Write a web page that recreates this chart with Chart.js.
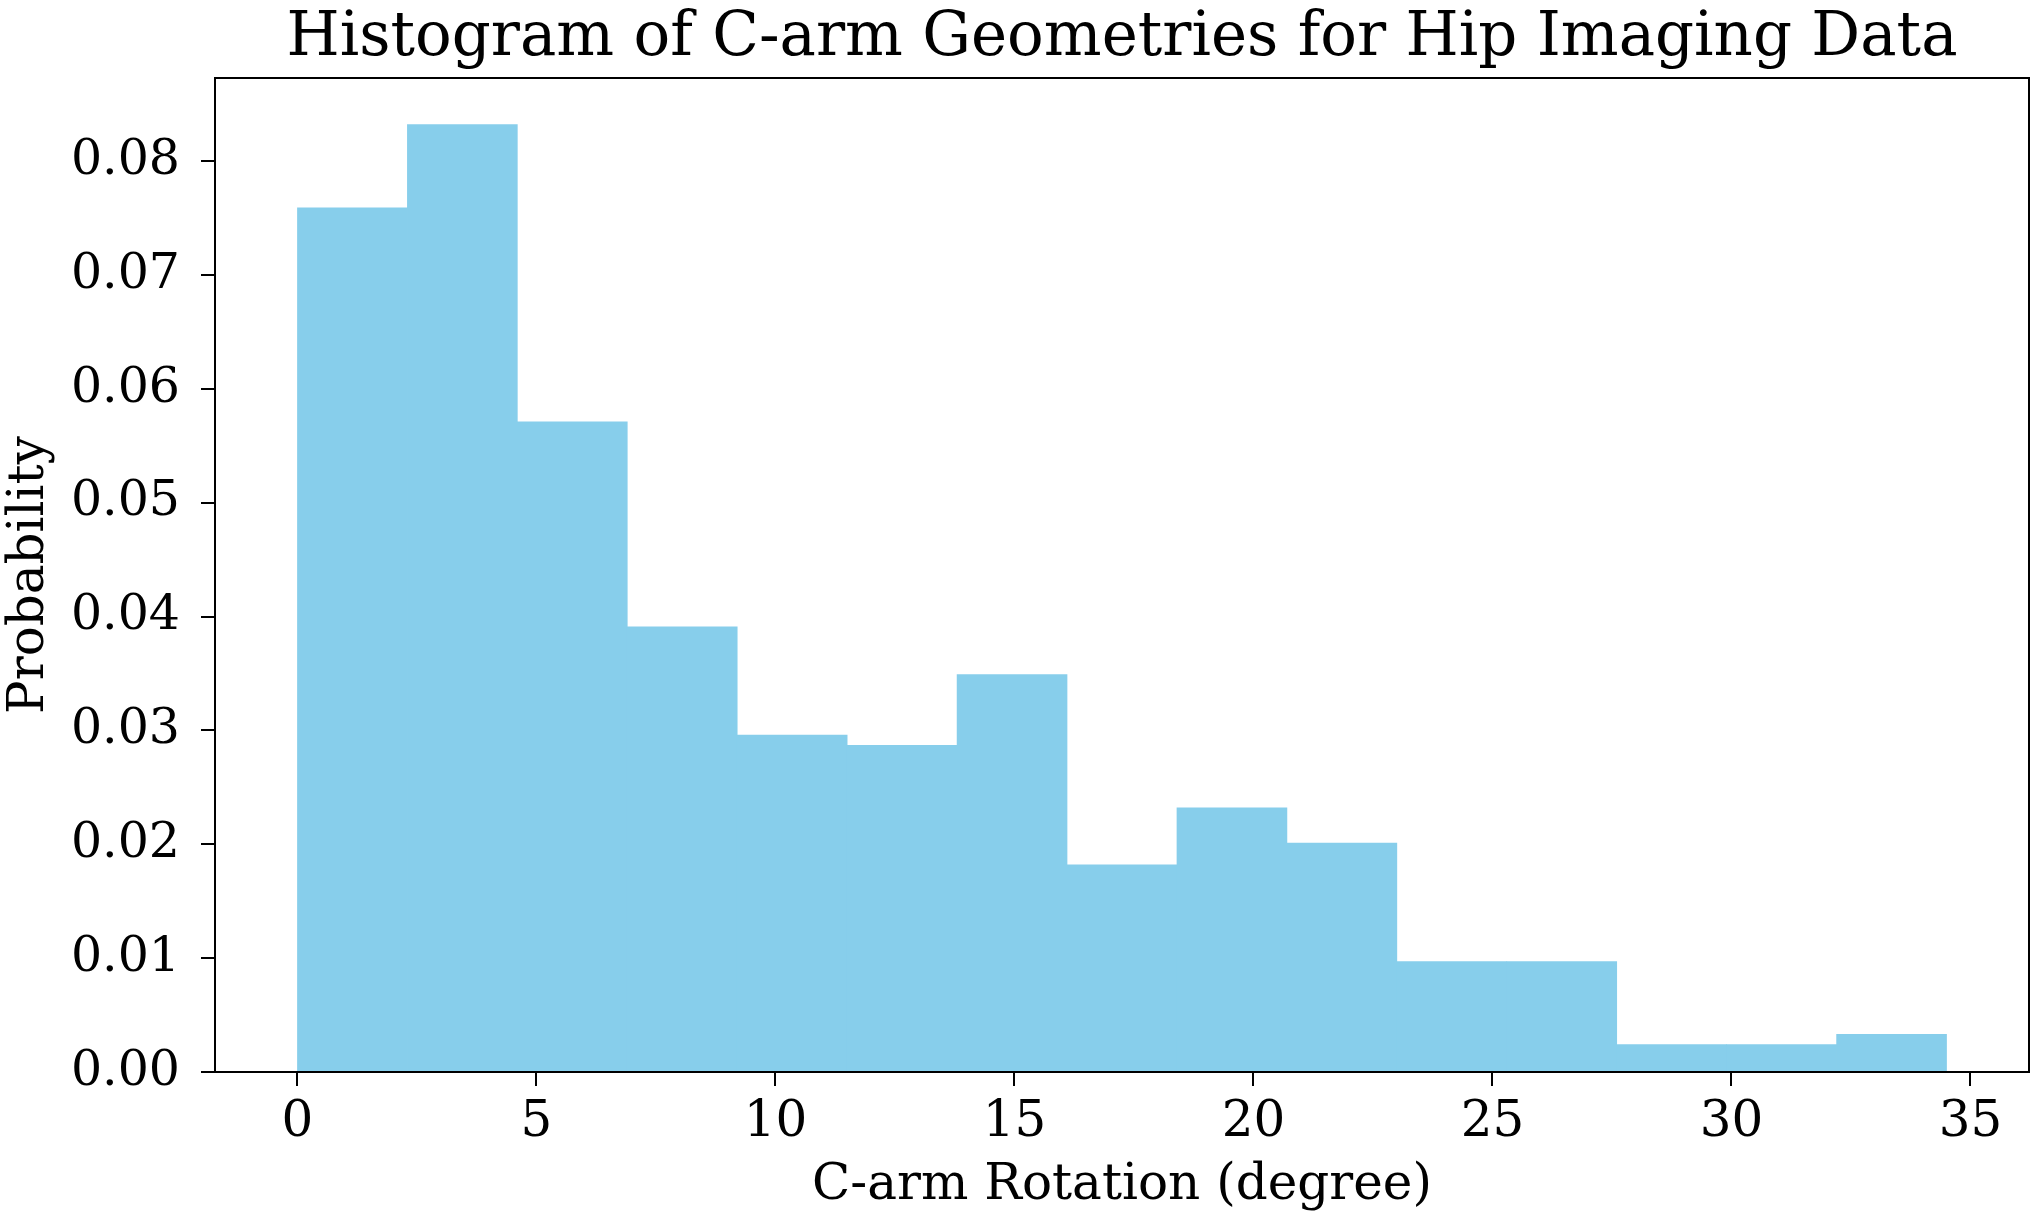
<!DOCTYPE html>
<html>
<head>
<meta charset="utf-8">
<script src="https://cdn.jsdelivr.net/npm/chart.js@4"></script>
<style>
  body { margin: 0; background: #fff; }
  #wrap { width: 2040px; height: 1216px; }
</style>
</head>
<body>
<div id="wrap"><canvas id="myChart"></canvas></div>
<script>
const binEdges = [0, 2.3, 4.6, 6.9, 9.2, 11.5, 13.8, 16.1, 18.4, 20.7, 23.0, 25.3, 27.6, 29.9, 32.2, 34.5];
const probability = [0.0759, 0.0832, 0.0571, 0.0391, 0.0296, 0.0287, 0.0349, 0.0182, 0.0232, 0.0201, 0.0097, 0.0097, 0.0024, 0.0024, 0.0033];
const xTicks = [0, 5, 10, 15, 20, 25, 30, 35];
const yTicks = [0, 0.01, 0.02, 0.03, 0.04, 0.05, 0.06, 0.07, 0.08];

const FONT = "'DejaVu Serif', serif";
const TITLE = 'Histogram of C-arm Geometries for Hip Imaging Data';

const points = probability.map((p, i) => ({ x: (binEdges[i] + binEdges[i + 1]) / 2, y: p }));

// box around the plot area + title centred over it, like matplotlib
const frame = {
    id: 'frame',
    afterDatasetsDraw(chart) {
        const { ctx, chartArea: a } = chart;
        ctx.save();
        ctx.strokeStyle = '#000';
        ctx.lineWidth = 2;
        ctx.strokeRect(a.left, a.top, a.right - a.left, a.bottom - a.top);
        ctx.fillStyle = '#000';
        ctx.font = "61px " + FONT;
        ctx.textAlign = 'center';
        ctx.textBaseline = 'alphabetic';
        ctx.fillText(TITLE, (a.left + a.right) / 2, 55);
        ctx.restore();
    }
};

const tickGrid = {
    display: true,
    drawOnChartArea: false,
    drawTicks: true,
    tickLength: 14,
    offset: false,
    color: '#000',
    lineWidth: 2,
};

const ctx = document.getElementById('myChart').getContext('2d');
const chart = new Chart(ctx, {
    type: 'bar',
    data: {
        datasets: [{
            label: 'C-arm Rotation',
            data: points,
            backgroundColor: '#87CEEB',
            borderWidth: 0,
            barPercentage: 1,
            categoryPercentage: 1,
        }]
    },
    options: {
        responsive: true,
        maintainAspectRatio: false,
        animation: false,
        layout: { padding: { left: 0, right: 11, top: 78, bottom: 0 } },
        plugins: {
            legend: { display: false },
            tooltip: { enabled: false },
            title: { display: false }
        },
        scales: {
            x: {
                type: 'linear',
                min: -1.725,
                max: 36.225,
                offset: false,
                grid: tickGrid,
                border: { display: false },
                afterBuildTicks: scale => { scale.ticks = xTicks.map(v => ({ value: v })); },
                afterFit: scale => { scale.height = 144; },
                ticks: {
                    color: '#000',
                    padding: 7,
                    maxRotation: 0,
                    font: { family: FONT, size: 50 },
                    callback: v => String(v),
                },
                title: {
                    display: true,
                    text: 'C-arm Rotation (degree)',
                    color: '#000',
                    font: { family: FONT, size: 50, lineHeight: 1 },
                    padding: { top: 0, bottom: 5 },
                }
            },
            y: {
                min: 0,
                max: 0.0873,
                grid: tickGrid,
                border: { display: false },
                afterBuildTicks: scale => { scale.ticks = yTicks.map(v => ({ value: v })); },
                afterFit: scale => { scale.width = 215; },
                ticks: {
                    color: '#000',
                    padding: 21,
                    font: { family: FONT, size: 49 },
                    callback: v => v.toFixed(2),
                },
                title: {
                    display: true,
                    text: 'Probability',
                    color: '#000',
                    font: { family: FONT, size: 50, lineHeight: 1 },
                    padding: { top: 5, bottom: 0 },
                }
            }
        }
    },
    plugins: [frame]
});
</script>
</body>
</html>
